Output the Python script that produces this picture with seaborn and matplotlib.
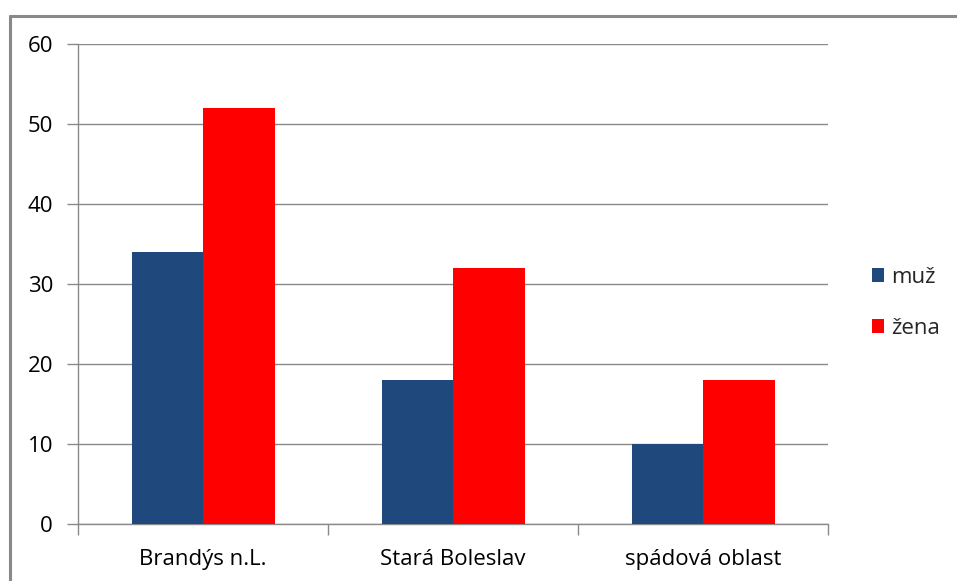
import matplotlib
matplotlib.use("Agg")
import matplotlib.pyplot as plt
import seaborn as sns
import pandas as pd
from matplotlib.patches import Rectangle
from matplotlib.lines import Line2D

categories = ["Brandýs n.L.", "Stará Boleslav", "spádová oblast"]
series = ["muž", "žena"]
muz = [34, 18, 10]
zena = [52, 32, 18]
colors = ["#1F497D", "#FF0000"]

df = pd.DataFrame({
    "cat": categories * 2,
    "val": muz + zena,
    "ser": [series[0]] * 3 + [series[1]] * 3,
})

sns.set_theme(style="white")
plt.rcParams["font.family"] = ["Open Sans", "DejaVu Sans"]

W, H = 957, 581
fig = plt.figure(figsize=(W / 100, H / 100), dpi=100)
ax = fig.add_axes([78 / W, 1 - 524 / H, (828 - 78) / W, (524 - 44) / H])

sns.barplot(data=df, x="cat", y="val", hue="ser", palette=colors,
            width=0.572, gap=0, saturation=1, ax=ax, legend=False, zorder=3)
for p in ax.patches:
    p.set_edgecolor("none")

ax.set_ylim(0, 60)
ax.set_xlim(-0.5, 2.5)
ax.set_yticks(range(0, 61, 10))
ax.yaxis.grid(True, color="#8a8a8a", linewidth=1)
ax.set_axisbelow(True)
ax.set_xlabel("")
ax.set_ylabel("")
for s in ["top", "right"]:
    ax.spines[s].set_visible(False)
for s in ["left", "bottom"]:
    ax.spines[s].set_color("#8a8a8a")
    ax.spines[s].set_linewidth(1)
ax.tick_params(axis="y", which="both", length=8, color="#8a8a8a", width=1,
               labelsize=16, pad=10, left=True, labelcolor="#000000")
ax.tick_params(axis="x", which="major", length=0, labelsize=16, pad=18,
               labelcolor="#000000")
# category boundary ticks
ax.set_xticks([-0.5, 0.5, 1.5, 2.5], minor=True)
ax.tick_params(axis="x", which="minor", length=8, color="#8a8a8a", width=1,
               bottom=True, direction="out")

handles = [Rectangle((0, 0), 1, 1, facecolor=c, edgecolor="none") for c in colors]
fig.legend(handles, series, loc="center left", bbox_to_anchor=(872 / W, 1 - 303 / H),
           frameon=False, fontsize=16, handlelength=0.55, handleheight=0.55,
           handletextpad=0.3, labelspacing=1.35, borderpad=0, borderaxespad=0)

# outer chart border
fig.add_artist(Line2D([9.5 / W, 9.5 / W], [0, 1 - 15.5 / H], transform=fig.transFigure,
                      color="#898989", linewidth=2.2))
fig.add_artist(Line2D([9.5 / W, 1], [1 - 15.5 / H, 1 - 15.5 / H], transform=fig.transFigure,
                      color="#898989", linewidth=2.2))

fig.savefig("out.png", dpi=100, facecolor="white")
